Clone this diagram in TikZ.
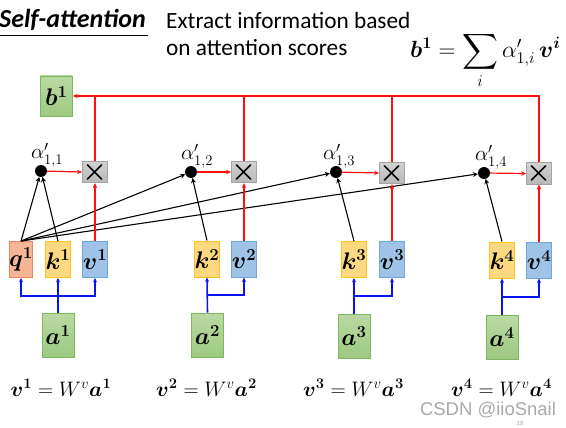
\RequirePackage{fix-cm}
\documentclass[tikz,border=0pt]{standalone}
\usepackage{amsmath,bm}
\usepackage[no-math]{fontspec}
\setmainfont{Carlito}
\newfontfamily\wmfont{Liberation Sans}
\usetikzlibrary{arrows.meta}
\definecolor{qfill}{HTML}{F5B596}
\definecolor{qdraw}{HTML}{E9875C}
\definecolor{kfill}{HTML}{FFD982}
\definecolor{kdraw}{HTML}{FFC21A}
\definecolor{vfill}{HTML}{9FC3E7}
\definecolor{vdraw}{HTML}{6FA6DA}
\definecolor{gtop}{HTML}{B9DAA3}
\definecolor{gbot}{HTML}{9DC981}
\definecolor{gdraw}{HTML}{7DB65C}
\definecolor{xtop}{HTML}{D2D2D2}
\definecolor{xbot}{HTML}{B8B8B8}
\definecolor{xdraw}{HTML}{A4A4A4}
\definecolor{redl}{HTML}{FF1010}
\definecolor{bluel}{HTML}{0A14F0}
\definecolor{wm}{HTML}{A9A9A9}
\begin{document}
\begin{tikzpicture}[x=1pt,y=-1pt,
  vec/.style={draw, line width=0.9pt, minimum width=20pt, minimum height=36pt, inner sep=0pt, font=\fontsize{24}{24}\selectfont},
  qb/.style={vec, fill=qfill, draw=qdraw},
  kb/.style={vec, fill=kfill, draw=kdraw},
  vb/.style={vec, fill=vfill, draw=vdraw},
  inb/.style={draw=gdraw, line width=0.9pt, top color=gtop, bottom color=gbot, minimum width=32pt, minimum height=44pt, inner sep=0pt, font=\fontsize{24}{24}\selectfont},
  outb/.style={inb, minimum height=40pt},
  mulbox/.style={draw=xdraw, line width=0.8pt, top color=xtop, bottom color=xbot, minimum width=21pt, minimum height=20pt, inner sep=0pt, font=\fontsize{28}{28}\selectfont},
  dotn/.style={circle, fill=black, minimum size=12pt, inner sep=0pt},
  alab/.style={font=\fontsize{21}{21}\selectfont, inner sep=0pt},
  eqlab/.style={font=\fontsize{21}{21}\selectfont, inner sep=0pt},
  blk/.style={draw=black, line width=1.1pt, -{Stealth[length=5pt,width=5pt]}},
  redc/.style={draw=redl, line width=1.2pt},
  reda/.style={redc, -{Stealth[length=5pt,width=4.5pt]}},
  bluea/.style={draw=bluel, line width=1.6pt, -{Stealth[length=4.5pt,width=4pt]}},
]
\useasboundingbox (0,0) rectangle (566,428);

% header
\node[anchor=base west, inner sep=0pt, font=\fontsize{26}{26}\selectfont\bfseries\itshape] (title) at (-1,28) {Self-attention};
\draw[line width=0.9pt] (0,35) -- (148,35);
\node[anchor=base west, inner sep=0pt, font=\fontsize{23.3}{23.3}\selectfont] (ex1) at (166,29) {Extract information based};
\node[anchor=base west, inner sep=0pt, font=\fontsize{23.3}{23.3}\selectfont] (ex2) at (166,56) {on attention scores};
\node[anchor=base west, inner sep=0pt, font=\fontsize{23.5}{23.5}\selectfont] (form) at (410,58) {$\displaystyle \bm{b}^{\bm{1}} = \sum_i \alpha'_{1,i}\,\bm{v}^{\bm{i}}$};

% output
\node[outb] (b1) at (56.3,96) {$\bm{b}^{\bm{1}}$};

% vectors
\node[qb] (q1) at (21,259.5) {$\bm{q}^{\bm{1}}$};
\node[kb] (k1) at (58,259.5) {$\bm{k}^{\bm{1}}$};
\node[vb] (v1) at (95,259.5) {$\bm{v}^{\bm{1}}$};
\node[kb] (k2) at (207,259) {$\bm{k}^{\bm{2}}$};
\node[vb] (v2) at (244,259) {$\bm{v}^{\bm{2}}$};
\node[kb] (k3) at (354,259.5) {$\bm{k}^{\bm{3}}$};
\node[vb] (v3) at (392,259.5) {$\bm{v}^{\bm{3}}$};
\node[kb] (k4) at (502,260) {$\bm{k}^{\bm{4}}$};
\node[vb] (v4) at (539,260) {$\bm{v}^{\bm{4}}$};

% inputs
\node[inb] (a1) at (58,335) {$\bm{a}^{\bm{1}}$};
\node[inb] (a2) at (207.5,335) {$\bm{a}^{\bm{2}}$};
\node[inb] (a3) at (354,336) {$\bm{a}^{\bm{3}}$};
\node[inb] (a4) at (502,337) {$\bm{a}^{\bm{4}}$};

% scores
\node[dotn] (d1) at (41,171) {};
\node[dotn] (d2) at (191,172) {};
\node[dotn] (d3) at (336,172) {};
\node[dotn] (d4) at (484,173) {};
\node[alab] (l1) at (47,155) {$\alpha'_{1,1}$};
\node[alab] (l2) at (197,156) {$\alpha'_{1,2}$};
\node[alab] (l3) at (339,156) {$\alpha'_{1,3}$};
\node[alab] (l4) at (491,157) {$\alpha'_{1,4}$};

% multipliers
\node[mulbox] (t1) at (95,172) {$\bm{\times}$};
\node[mulbox] (t2) at (244,172) {$\bm{\times}$};
\node[mulbox] (t3) at (392,173) {$\bm{\times}$};
\node[mulbox] (t4) at (539,173.5) {$\bm{\times}$};

% black connectors
\draw[blk] (q1.north) -- (d1);
\draw[blk] (q1.north) -- (d2);
\draw[blk] (q1.north) -- (d3);
\draw[blk] (q1.north) -- (d4);
\draw[blk] (k1.north) -- (d1);
\draw[blk] (k2.north) -- (d2);
\draw[blk] (k3.north) -- (d3);
\draw[blk] (k4.north) -- (d4);

% red connectors
\foreach \i in {1,2,3,4}{
  \draw[reda] (d\i) -- (t\i.west);
  \draw[reda] (v\i.north) -- (t\i.south);
}
\draw[reda] (t4.north) |- (b1.east);
\draw[redc] (t1.north) -- (t1.north |- b1.east);
\draw[redc] (t2.north) -- (t2.north |- b1.east);
\draw[redc] (t3.north) -- (t3.north |- b1.east);

% blue connectors
\coordinate (j1) at (58,296);
\coordinate (j2) at (207.5,295);
\coordinate (j3) at (354,296);
\coordinate (j4) at (502,297);
\draw[bluea] (a1.north) -- (k1.south);
\draw[bluea] (j1) -| (q1.south);
\draw[bluea] (j1) -| (v1.south);
\draw[bluea] (a2.north) -- (k2.south);
\draw[bluea] (j2) -| (v2.south);
\draw[bluea] (a3.north) -- (k3.south);
\draw[bluea] (j3) -| (v3.south);
\draw[bluea] (a4.north) -- (k4.south);
\draw[bluea] (j4) -| (v4.south);

% equations
\node[eqlab] (e1) at (61,388) {$\bm{v}^{\bm{1}} = W^{v}\bm{a}^{\bm{1}}$};
\node[eqlab] (e2) at (206.5,388) {$\bm{v}^{\bm{2}} = W^{v}\bm{a}^{\bm{2}}$};
\node[eqlab] (e3) at (353.5,388) {$\bm{v}^{\bm{3}} = W^{v}\bm{a}^{\bm{3}}$};
\node[eqlab] (e4) at (501.5,388) {$\bm{v}^{\bm{4}} = W^{v}\bm{a}^{\bm{4}}$};

% watermark
\node[inner sep=0pt, text=wm, font=\wmfont\fontsize{18.5}{18.5}\selectfont] (wmk) at (488,410) {CSDN @iioSnail};
\node[inner sep=0pt, text=wm, font=\wmfont\fontsize{6}{6}\selectfont] (pg) at (520,423) {18};
\end{tikzpicture}
\end{document}
